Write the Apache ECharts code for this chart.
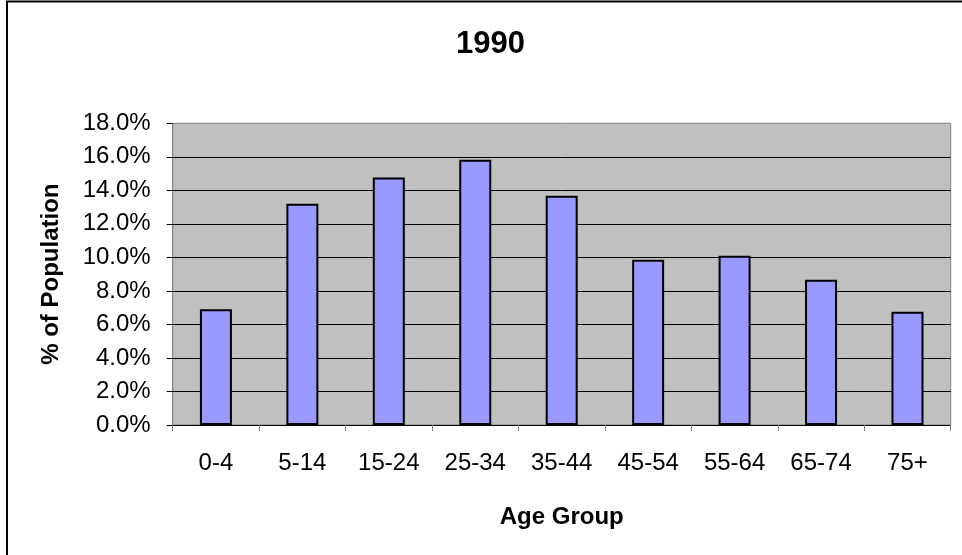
<!DOCTYPE html>
<html>
<head>
<meta charset="utf-8">
<script src="https://cdn.jsdelivr.net/npm/echarts@6/dist/echarts.min.js"></script>
<style>
html,body{margin:0;padding:0;background:#fff;}
#chart{width:962px;height:555px;}
</style>
</head>
<body>
<div id="chart"></div>
<script>
var titleText = '1990';
var categories = ['0-4','5-14','15-24','25-34','35-44','45-54','55-64','65-74','75+'];
var values = [6.9, 13.2, 14.76, 15.83, 13.68, 9.86, 10.1, 8.67, 6.76];
var yAxisName = '% of Population';
var xAxisName = 'Age Group';

var chart = echarts.init(document.getElementById('chart'), null, {renderer:'canvas'});
var font = 'Liberation Sans, Arial, sans-serif';
chart.setOption({
  animation: false,
  backgroundColor: '#fff',
  title: {
    text: titleText,
    left: 451,
    top: 24,
    textStyle: {fontFamily: font, fontSize: 31, fontWeight: 'bold', color: '#000'}
  },
  graphic: [{
    type: 'rect',
    shape: {x: 7, y: 1.5, width: 1000, height: 600},
    style: {fill: null, stroke: '#000', lineWidth: 2},
    silent: true
  }],
  grid: {
    left: 172.7, right: 11.3, top: 123.3, bottom: 130,
    show: true, backgroundColor: '#C0C0C0', borderColor: '#808080', borderWidth: 1
  },
  xAxis: {
    type: 'category',
    data: categories,
    name: xAxisName,
    nameLocation: 'middle',
    nameGap: 80,
    nameTextStyle: {fontFamily: font, fontSize: 24, fontWeight: 'bold', color: '#000'},
    axisLine: {show: true, lineStyle: {color: '#000', width: 1}},
    axisTick: {show: true, length: 6, lineStyle: {color: '#808080'}},
    axisLabel: {fontFamily: font, fontSize: 24, color: '#000', margin: 26},
    splitLine: {show: false}
  },
  yAxis: {
    type: 'value',
    min: 0, max: 18, interval: 2,
    name: yAxisName,
    nameLocation: 'middle',
    nameGap: 109,
    nameTextStyle: {fontFamily: font, fontSize: 24, fontWeight: 'bold', color: '#000'},
    axisLine: {show: true, lineStyle: {color: '#808080', width: 1}},
    axisTick: {show: true, length: 6, lineStyle: {color: '#000'}},
    axisLabel: {fontFamily: font, fontSize: 24, color: '#000', margin: 22,
      formatter: function (v) { return v.toFixed(1) + '%'; }},
    splitLine: {show: true, showMaxLine: false, lineStyle: {color: '#000', width: 1}}
  },
  series: [{
    type: 'bar',
    data: values,
    barWidth: 32,
    itemStyle: {color: '#9999FF', borderColor: '#000', borderWidth: 2}
  }]
});
</script>
</body>
</html>
